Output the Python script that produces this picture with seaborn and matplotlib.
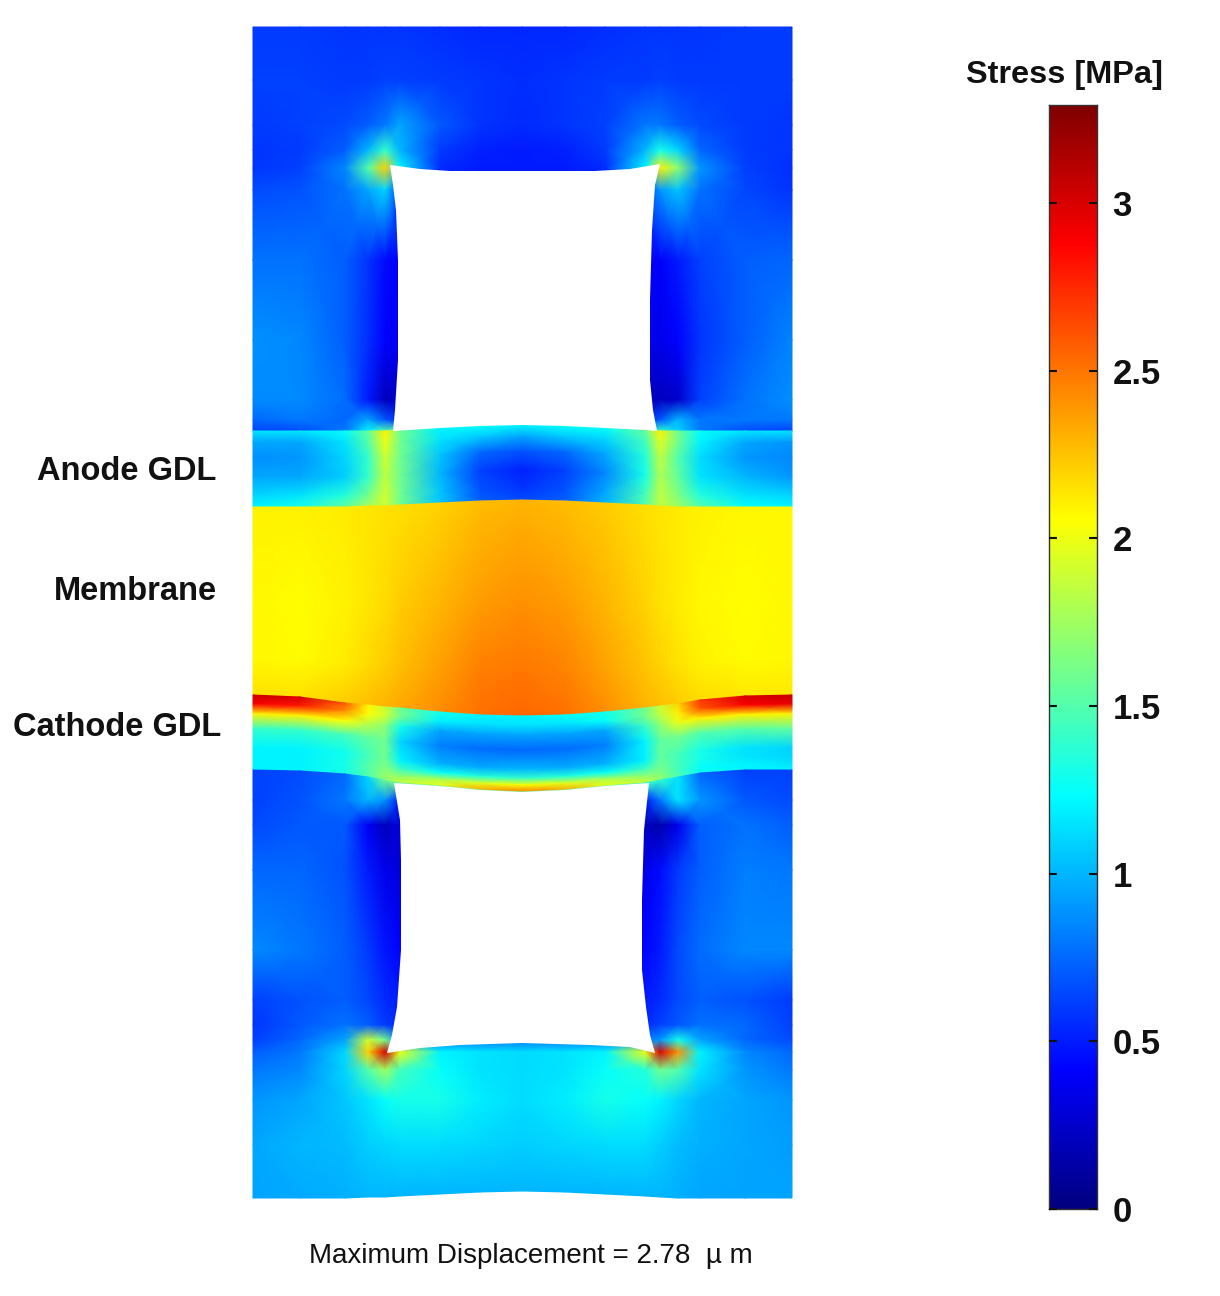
import numpy as np
import matplotlib
matplotlib.use("Agg")
import matplotlib.pyplot as plt
from matplotlib.colors import LinearSegmentedColormap
import seaborn as sns

sns.set_theme(style="white")
plt.rcParams['font.family'] = ['Liberation Sans', 'DejaVu Sans']

VMAX = 3.293
columns = [253, 300, 345, 368, 385, 400, 440, 480, 522, 565, 605, 645, 660, 678, 700, 745, 792]

# layer boundaries (one height per column)
anode_top = [431, 431, 431, 431, 431, 430, 428, 426, 425, 426, 428, 430, 431, 431, 431, 431, 431]
anode_bottom = [507, 507, 507, 506, 506, 505, 503, 501, 500, 501, 503, 505, 506, 507, 507, 507, 507]
membrane_bottom = [695, 697, 703, 705, 707, 708, 712, 715, 716, 715, 712, 708, 706, 704, 700, 696, 695]
cathode_bottom = [770, 771, 774, 777, 780, 783, 786, 790, 792, 790, 786, 783, 780, 777, 773, 770, 770]
base_edge = [1198, 1198, 1198, 1197, 1197, 1196, 1194, 1192, 1191, 1192, 1194, 1196, 1197, 1198, 1198, 1198, 1198]

# stress [MPa] at nodes
upper_block_rows = [27, 80, 125, 150, 168, 190, 260, 340, 400, 420, 431]
upper_block = [
    [.60, .60, .58, .58, .58, .58, .56, .54, .54, .54, .56, .58, .58, .58, .58, .60, .60],
    [.62, .62, .60, .60, .62, .62, .60, .58, .56, .58, .60, .60, .62, .60, .60, .60, .60],
    [.60, .62, .65, .72, .80, .95, .70, .58, .55, .58, .62, .80, .80, .72, .65, .60, .58],
    [.58, .60, .72, 1.0, 1.4, 1.0, .60, .52, .50, .52, .60, 1.0, 1.3, 1.1, .75, .60, .58],
    [.58, .62, .85, 1.5, 2.2, 1.2, .55, .50, .50, .50, .55, 1.2, 2.1, 1.7, .90, .62, .56],
    [.66, .68, .78, .95, 1.1, .60, .50, .50, .50, .50, .50, .60, .90, 1.05, .78, .64, .58],
    [.78, .78, .72, .58, .45, .40, .40, .40, .40, .40, .40, .40, .40, .50, .62, .72, .74],
    [.88, .85, .72, .56, .42, .38, .38, .38, .38, .38, .38, .35, .35, .42, .58, .72, .84],
    [.86, .86, .76, .50, .20, .25, .25, .25, .25, .25, .25, .20, .20, .25, .62, .78, .88],
    [.75, .80, .75, .95, .70, .55, .55, .55, .55, .55, .55, .55, .70, 1.0, .80, .80, .80],
    [.62, .65, .80, 1.2, 1.5, 1.5, 1.5, 1.5, 1.5, 1.5, 1.5, 1.4, 1.4, 1.1, .80, .65, .62],
]

anode_fractions = [0, .15, .35, .6, .85, 1]
anode = [
    [1.15, 1.15, 1.25, 1.55, 2.1, 1.6, 1.2, 1.25, 1.2, 1.25, 1.25, 1.55, 2.1, 1.6, 1.25, 1.15, 1.15],
    [.95, .95, 1.15, 1.5, 2.0, 1.6, 1.15, 1.05, .95, 1.05, 1.1, 1.45, 1.95, 1.6, 1.2, .95, .90],
    [.88, .90, 1.1, 1.4, 1.9, 1.6, 1.05, .75, .68, .75, .95, 1.35, 1.85, 1.5, 1.12, .90, .85],
    [.95, .95, 1.08, 1.4, 1.85, 1.6, 1.0, .62, .52, .62, .85, 1.3, 1.8, 1.55, 1.15, 1.0, .90],
    [1.1, 1.15, 1.35, 1.6, 1.9, 1.6, 1.05, .68, .58, .68, .95, 1.45, 1.85, 1.65, 1.35, 1.15, 1.1],
    [1.2, 1.3, 1.55, 1.75, 1.9, 1.6, 1.05, .72, .65, .72, 1.0, 1.5, 1.85, 1.75, 1.5, 1.25, 1.2],
]

membrane_fractions = [0, .5, .8, 1]
membrane = [
    [2.10, 2.10, 2.12, 2.14, 2.15, 2.16, 2.20, 2.27, 2.30, 2.27, 2.22, 2.16, 2.14, 2.12, 2.10, 2.08, 2.08],
    [2.08, 2.06, 2.10, 2.14, 2.18, 2.22, 2.30, 2.38, 2.42, 2.38, 2.30, 2.20, 2.16, 2.12, 2.08, 2.06, 2.08],
    [2.08, 2.07, 2.12, 2.18, 2.22, 2.27, 2.37, 2.47, 2.50, 2.46, 2.36, 2.25, 2.20, 2.15, 2.10, 2.07, 2.08],
    [2.15, 2.15, 2.22, 2.27, 2.30, 2.34, 2.43, 2.52, 2.55, 2.52, 2.42, 2.30, 2.27, 2.22, 2.17, 2.13, 2.13],
]

cathode_fractions = [0, .12, .25, .45, .7, .82, .91, 1]
cathode = [
    [3.05, 3.0, 2.6, 2.1, 1.9, 1.6, 1.3, 1.2, 1.2, 1.25, 1.3, 1.6, 1.9, 2.2, 2.7, 3.0, 3.05],
    [2.9, 2.8, 2.4, 2.05, 1.9, 1.6, 1.2, 1.15, 1.15, 1.15, 1.25, 1.6, 1.85, 2.1, 2.6, 2.9, 2.95],
    [2.1, 2.1, 2.05, 1.85, 1.7, 1.3, .95, .95, .95, .95, .95, 1.4, 1.7, 2.0, 2.1, 2.1, 2.1],
    [1.4, 1.4, 1.45, 1.55, 1.6, 1.1, .82, .76, .75, .76, .82, 1.2, 1.55, 1.6, 1.5, 1.5, 1.55],
    [1.2, 1.2, 1.28, 1.45, 1.6, 1.2, .98, .96, 1.0, .96, .98, 1.2, 1.55, 1.45, 1.3, 1.15, 1.1],
    [1.2, 1.2, 1.3, 1.5, 1.65, 1.45, 1.25, 1.35, 1.4, 1.35, 1.25, 1.45, 1.6, 1.45, 1.3, 1.15, 1.1],
    [1.2, 1.2, 1.3, 1.5, 1.7, 1.7, 1.8, 1.95, 2.05, 1.95, 1.8, 1.7, 1.65, 1.45, 1.25, 1.2, 1.15],
    [1.2, 1.2, 1.3, 1.5, 1.7, 1.9, 2.0, 2.35, 2.5, 2.35, 2.0, 1.9, 1.7, 1.5, 1.25, 1.2, 1.2],
]

lower_block_rows = [800, 825, 870, 950, 1000, 1025, 1040, 1052, 1070, 1100, 1145]
lower_block = [
    [.62, .65, .75, 1.1, 1.6, 1.6, 1.6, 1.6, 1.6, 1.6, 1.6, 1.4, 1.4, 1.15, .75, .62, .62],
    [.62, .68, .80, 1.0, .90, .50, .50, .50, .50, .50, .50, .50, .80, 1.15, .90, .70, .65],
    [.65, .70, .70, .38, .20, .30, .30, .30, .30, .30, .30, .20, .15, .35, .72, .78, .72],
    [.75, .74, .68, .50, .35, .30, .30, .30, .30, .30, .30, .35, .45, .60, .72, .82, .80],
    [.85, .80, .72, .60, .48, .42, .42, .42, .42, .42, .42, .42, .50, .65, .76, .85, .85],
    [.62, .68, .72, .64, .55, .50, .50, .50, .50, .50, .50, .50, .55, .65, .72, .68, .60],
    [.58, .70, .78, .72, .60, .55, .55, .55, .55, .55, .55, .55, .62, .70, .78, .75, .62],
    [.62, .75, .95, 1.9, 1.6, .80, .80, .80, .80, .80, .80, .80, .90, 1.3, .95, .75, .65],
    [.72, .80, 1.1, 2.2, 3.0, 2.0, 1.2, 1.15, 1.12, 1.15, 1.2, 2.0, 3.0, 2.4, 1.2, .85, .75],
    [.80, .85, 1.1, 1.5, 1.75, 1.45, 1.25, 1.15, 1.12, 1.15, 1.25, 1.35, 1.6, 1.5, 1.15, .90, .80],
    [.90, .95, 1.05, 1.15, 1.25, 1.3, 1.3, 1.18, 1.12, 1.18, 1.3, 1.25, 1.2, 1.1, 1.0, .95, .90],
    [.95, 1.0, 1.02, 1.08, 1.1, 1.12, 1.12, 1.1, 1.08, 1.1, 1.12, 1.12, 1.08, 1.02, .98, .95, .92],
    [.94, .96, .98, 1.0, 1.0, 1.0, 1.0, 1.0, 1.0, 1.0, 1.0, 1.0, 1.0, .98, .95, .94, .94],
]

# outlines of the two channels
upper_hole_x = [390, 420, 450, 522, 595, 630, 660, 655, 652, 650, 650, 653, 657, 645, 605, 565, 522, 480, 440, 393, 395, 398, 398, 396, 393]
upper_hole_y = [165, 169, 171, 171, 171, 169, 164, 185, 230, 300, 380, 410, 431, 430, 428, 426, 425, 426, 428, 431, 410, 360, 260, 210, 185]
lower_hole_x = [394, 440, 480, 522, 565, 605, 649, 644, 642, 642, 646, 650, 655, 630, 590, 522, 460, 420, 387, 392, 397, 401, 401, 400]
lower_hole_y = [783, 786, 790, 792, 790, 786, 783, 830, 900, 970, 1007, 1035, 1053, 1047, 1045, 1043, 1045, 1048, 1053, 1035, 1007, 950, 860, 820]

colorbar_ticks = [0, 0.5, 1, 1.5, 2, 2.5, 3]
colorbar_labels = ['0', '0.5', '1', '1.5', '2', '2.5', '3']
layer_names = ['Anode GDL', 'Membrane', 'Cathode GDL']
layer_name_x = [127, 135, 117]
layer_name_y = [471, 592, 727]

stress_cmap = LinearSegmentedColormap.from_list('stress', [
    (0, (0, 0, .5)), (1 / 8, (0, 0, 1)), (3 / 8, (0, 1, 1)),
    (5 / 8, (1, 1, 0)), (7 / 8, (1, 0, 0)), (1, (.5, 0, 0))], N=512)

W, H = 1220, 1296
fig = plt.figure(figsize=(W / 100, H / 100), dpi=100, facecolor='white')
ax = fig.add_axes([0, 0, 1, 1])
ax.set_xlim(0, W)
ax.set_ylim(H, 0)
ax.axis('off')

x = np.array(columns, float)


def draw(ys, values):
    X = np.tile(x, (len(ys), 1))
    ax.pcolormesh(X, np.array(ys, float), np.array(values, float), shading='gouraud',
                  cmap=stress_cmap, vmin=0, vmax=VMAX, rasterized=True)


def by_fraction(top, bottom, fractions):
    top, bottom = np.array(top, float), np.array(bottom, float)
    return [top + f * (bottom - top) for f in fractions]


draw([np.full(17, float(r)) for r in upper_block_rows], upper_block)
draw(by_fraction(anode_top, anode_bottom, anode_fractions), anode)
draw(by_fraction(anode_bottom, membrane_bottom, membrane_fractions), membrane)
draw(by_fraction(membrane_bottom, cathode_bottom, cathode_fractions), cathode)
draw([np.array(cathode_bottom, float)] + [np.full(17, float(r)) for r in lower_block_rows]
     + [np.array(base_edge, float)], lower_block)

ax.fill(upper_hole_x, upper_hole_y, color='white', lw=0, zorder=3)
ax.fill(lower_hole_x, lower_hole_y, color='white', lw=0, zorder=3)

for name, nx, ny in zip(layer_names, layer_name_x, layer_name_y):
    ax.text(nx, ny, name, ha='center', va='center', fontsize=23.5, fontweight='bold', color='#111111')
ax.text(531, 1256, 'Maximum Displacement = 2.78  \u00b5 m', ha='center', va='center',
        fontsize=20, color='#111111')
ax.text(1065, 75, 'Stress [MPa]', ha='center', va='center', fontsize=23.4,
        fontweight='bold', color='#111111')

# colour scale drawn as a one-column seaborn heatmap
levels = np.linspace(VMAX, 0, 512)[:, None]
cax = fig.add_axes([1049 / W, 1 - 1209 / H, 48 / W, 1104 / H])
sns.heatmap(levels, ax=cax, cmap=stress_cmap, vmin=0, vmax=VMAX, cbar=False,
            xticklabels=False, yticklabels=False)
cax.set_axisbelow(False)
for spine in cax.spines.values():
    spine.set_visible(True)
    spine.set_color('#333333')
    spine.set_linewidth(1)
cax.set_yticks([(VMAX - t) / VMAX * len(levels) for t in colorbar_ticks])
cax.set_yticklabels(colorbar_labels, fontsize=25, fontweight='bold', color='#111111')
cax.tick_params(axis='y', which='major', left=True, right=True, labelleft=False, labelright=True,
                direction='in', length=6, width=1.5, color='#111111', pad=11)
cax.set_xticks([])

fig.savefig('out.png', dpi=100, facecolor='white')
